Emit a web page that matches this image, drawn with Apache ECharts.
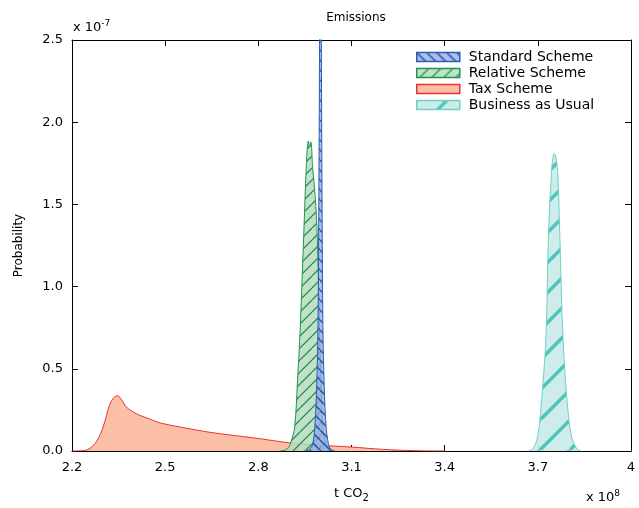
<!DOCTYPE html>
<html><head><meta charset="utf-8">
<script src="https://cdn.jsdelivr.net/npm/echarts@6/dist/echarts.min.js"></script>
<style>html,body{margin:0;padding:0;background:#fff}#c{width:639px;height:508px}</style>
</head><body><div id="c"></div>
<script>
// x in units of 1e8 t CO2, y in units of 1e-7
const seriesNames = ['Standard Scheme', 'Relative Scheme', 'Tax Scheme', 'Business as Usual'];
const xTicks = [2.2, 2.5, 2.8, 3.1, 3.4, 3.7, 4];
const yTicks = [0, 0.5, 1.0, 1.5, 2.0, 2.5];

const standardX = [2.95, 2.965, 2.975, 2.982, 2.988, 2.992, 2.995, 2.998, 3.0, 3.002, 3.005, 3.008, 3.012, 3.018, 3.025, 3.033, 3.045];
const standardY = [0, 0.01, 0.04, 0.15, 0.4, 0.75, 1.6, 3.0, 5.5, 3.0, 1.6, 0.75, 0.4, 0.15, 0.05, 0.01, 0];

const relativeX = [2.87, 2.885, 2.897, 2.906, 2.917, 2.926, 2.935, 2.947, 2.955, 2.961, 2.965, 2.969, 2.975, 2.983, 2.99, 2.997, 3.003, 3.008, 3.018, 3.03, 3.045];
const relativeY = [0, 0.005, 0.02, 0.06, 0.145, 0.42, 0.75, 1.356, 1.75, 1.885, 1.85, 1.88, 1.72, 1.55, 1.3, 0.75, 0.35, 0.14, 0.05, 0.01, 0];

const taxX = [2.2, 2.24, 2.26, 2.28, 2.3, 2.322, 2.335, 2.346, 2.36, 2.376, 2.408, 2.45, 2.483, 2.55, 2.65, 2.75, 2.804, 2.9, 3.0, 3.1, 3.2, 3.3, 3.4];
const taxY = [0, 0.003, 0.02, 0.06, 0.145, 0.286, 0.325, 0.337, 0.31, 0.266, 0.226, 0.195, 0.171, 0.145, 0.112, 0.088, 0.075, 0.05, 0.035, 0.024, 0.01, 0.002, 0];

const bauX = [3.67, 3.683, 3.699, 3.711, 3.726, 3.734, 3.744, 3.75, 3.753, 3.757, 3.764, 3.771, 3.781, 3.795, 3.809, 3.827, 3.84];
const bauY = [0, 0.01, 0.085, 0.286, 0.69, 1.295, 1.70, 1.80, 1.81, 1.80, 1.70, 1.295, 0.69, 0.286, 0.085, 0.01, 0];

function zip(xs, ys) { return xs.map((x, i) => [x, ys[i]]); }

function hatch(bg, fg, period, lw, dir) {
  const c = document.createElement('canvas');
  c.width = period; c.height = period;
  const g = c.getContext('2d');
  g.fillStyle = bg; g.fillRect(0, 0, period, period);
  g.strokeStyle = fg; g.lineWidth = lw;
  g.beginPath();
  for (let k = -1; k <= 1; k++) {
    if (dir === '/') { g.moveTo(k * period, period); g.lineTo(k * period + period, 0); }
    else { g.moveTo(k * period, 0); g.lineTo(k * period + period, period); }
  }
  g.stroke();
  return { image: c, repeat: 'repeat' };
}

const styles = [
  { line: '#2a5cb8', fill: hatch('rgba(150,170,225,0.75)', '#2a5cb8', 10, 1.6, '\\') },
  { line: '#1f9350', fill: hatch('rgba(185,220,190,0.85)', '#1f9350', 12, 1.3, '/') },
  { line: '#e8332f', fill: '#fbbfa6' },
  { line: '#6fd0c8', fill: hatch('rgba(200,234,232,0.9)', '#4fc4bb', 30, 3.5, '/') }
];
const datas = [zip(standardX, standardY), zip(relativeX, relativeY), zip(taxX, taxY), zip(bauX, bauY)];
const zs = [4, 3, 2, 1];

const chart = echarts.init(document.getElementById('c'), null, { renderer: 'canvas' });
const font = 'DejaVu Sans';
const series = seriesNames.map((n, i) => ({
  name: n, type: 'line', data: datas[i], symbol: 'none',
  smooth: 0.35, clip: true, z: zs[i],
  lineStyle: { color: styles[i].line, width: 1 },
  itemStyle: { color: styles[i].line },
  areaStyle: { color: styles[i].fill, opacity: 1 }
}));
const axisCommon = {
  axisLine: { show: true, onZero: false, lineStyle: { color: '#000', width: 1 } },
  axisTick: { show: true, inside: true, length: 6, lineStyle: { color: '#000' } },
  splitLine: { show: false }
};
chart.setOption({
  animation: false,
  textStyle: { fontFamily: font },
  title: { text: 'Emissions', left: 351, top: 7, textAlign: 'center',
    textStyle: { fontFamily: font, fontSize: 12, fontWeight: 'normal', color: '#000' } },
  grid: { left: 72, right: 8, top: 40, bottom: 54 },
  legend: {
    orient: 'vertical', left: 416, top: 49, itemWidth: 43, itemHeight: 9, itemGap: 0,
    icon: 'rect', padding: 0,
    textStyle: { fontFamily: font, fontSize: 14, lineHeight: 16, color: '#000', padding: [0, 0, 0, 4] },
    data: seriesNames.map((n, i) => ({ name: n, icon: 'rect',
      itemStyle: { color: styles[i].fill, borderColor: styles[i].line, borderWidth: 1.5 } }))
  },
  xAxis: [
    Object.assign({ type: 'value', min: 2.2, max: 4, interval: 0.3, position: 'bottom',
      name: 't CO{s|2}', nameLocation: 'middle', nameGap: 34,
      nameTextStyle: { fontFamily: font, fontSize: 13, color: '#000',
        rich: { s: { fontSize: 10, verticalAlign: 'bottom', padding: [8, 0, 0, 0], fontFamily: font, color: '#000' } } },
      axisLabel: { fontFamily: font, fontSize: 13, color: '#000', margin: 10,
        formatter: v => { const t = xTicks.find(a => Math.abs(a - v) < 1e-6); return t === undefined ? '' : String(t); } }
    }, axisCommon),
    Object.assign({ type: 'value', min: 2.2, max: 4, interval: 0.3, position: 'top', axisLabel: { show: false } }, axisCommon)
  ],
  yAxis: [
    Object.assign({ type: 'value', min: 0, max: 2.5, interval: 0.5, position: 'left',
      name: 'Probability', nameLocation: 'middle', nameGap: 47, nameRotate: 90,
      nameTextStyle: { fontFamily: font, fontSize: 12, color: '#000' },
      axisLabel: { fontFamily: font, fontSize: 13, color: '#000', margin: 9,
        formatter: v => { const t = yTicks.find(a => Math.abs(a - v) < 1e-6); return t === undefined ? '' : t.toFixed(1); } }
    }, axisCommon),
    Object.assign({ type: 'value', min: 0, max: 2.5, interval: 0.5, position: 'right', axisLabel: { show: false } }, axisCommon)
  ],
  graphic: [
    { type: 'text', left: 73, top: 19, style: { text: 'x 10{s|-7}', fontFamily: font, fontSize: 13, fill: '#000',
      rich: { s: { fontSize: 9, verticalAlign: 'top', padding: [0, 0, 8, 0], fontFamily: font, fill: '#000' } } } },
    { type: 'text', left: 586, top: 489, style: { text: 'x 10{s|8}', fontFamily: font, fontSize: 13, fill: '#000',
      rich: { s: { fontSize: 9, verticalAlign: 'top', padding: [0, 0, 8, 0], fontFamily: font, fill: '#000' } } } }
  ],
  series: series
});
</script></body></html>
